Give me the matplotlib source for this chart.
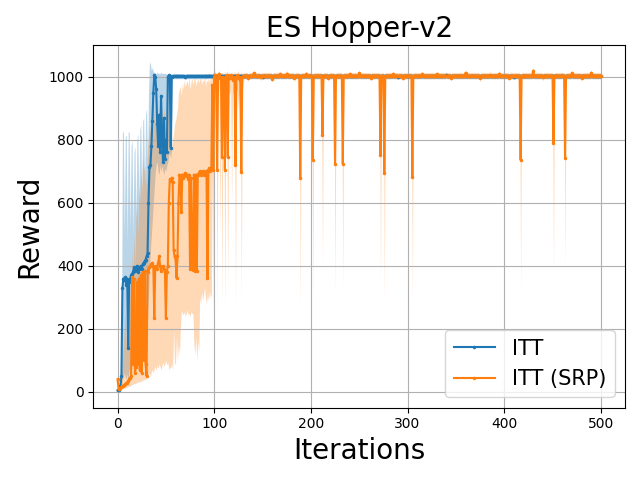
# ES Hopper-v2 reward curves, ITT vs ITT (SRP)

import numpy as np
import matplotlib
matplotlib.use('Agg')
import matplotlib.pyplot as plt

n_iters = 501
iters = np.arange(n_iters)

# ITT (blue), iterations 0-56, after that it sits on the plateau
itt_early = [5, 5, 10, 20, 50, 330, 360, 355, 365, 340,
             360, 140, 350, 360, 370, 375, 380, 395, 385, 390,
             400, 380, 390, 395, 400, 390, 405, 410, 415, 420,
             430, 440, 600, 715, 720, 780, 860, 950, 1005, 1000,
             960, 850, 780, 880, 760, 940, 800, 730, 870, 740,
             800, 760, 1000, 1005, 1003, 775, 1000]
itt_hi_early = [10, 10, 20, 40, 100, 820, 830, 500, 810, 815,
                480, 825, 825, 520, 780, 800, 500, 760, 780, 550,
                800, 820, 600, 830, 850, 620, 860, 870, 650, 880,
                900, 700, 950, 1048, 1040, 1020, 1030, 1015, 1015, 1012,
                1010, 1015, 1010, 1012, 1010, 1015, 1010, 1012, 1010, 1012,
                1010, 1008, 1010, 1012, 1010, 1008, 1010]
itt_lo_early = [0, 0, 0, 5, 10, 40, 50, 60, 50, 40,
                60, 30, 70, 80, 60, 90, 80, 100, 90, 110,
                100, 120, 110, 130, 140, 150, 130, 170, 180, 200,
                220, 240, 300, 400, 450, 500, 550, 600, 650, 700,
                720, 730, 700, 690, 720, 700, 720, 700, 690, 710,
                700, 720, 730, 750, 760, 740, 780]
itt_plateau = 1002
itt_band = 8
itt_bumps = {70: 998, 95: 1004, 150: 999, 200: 1004, 290: 998, 340: 1005,
             410: 999, 460: 1004}

# ITT (SRP) (orange), iterations 0-130
srp_early = [40, 10, 8, 12, 15, 18, 20, 22, 25, 28,
             30, 35, 40, 45, 50, 365, 90, 360, 60, 80,
             350, 90, 360, 70, 370, 60, 380, 100, 385, 90,
             50, 380, 390, 395, 400, 405, 410, 400, 235, 395,
             400, 390, 410, 430, 400, 385, 395, 400, 390, 380,
             235, 380, 400, 600, 675, 670, 680, 665, 450, 430,
             420, 362, 430, 600, 690, 685, 570, 690, 680, 690,
             695, 685, 690, 675, 690, 390, 680, 395, 387, 690,
             385, 690, 385, 690, 695, 700, 690, 695, 700, 690,
             695, 700, 690, 362, 705, 710, 700, 710, 975, 705,
             1000, 1005, 990, 705, 1000, 1010, 995, 1000, 745, 1000,
             990, 705, 1000, 1005, 745, 1000, 995, 1005, 1000, 990,
             1000, 995, 720, 1000, 1005, 995, 1000, 990, 697, 1000, 1003]
srp_hi_early = [60, 40, 40, 50, 60, 100, 150, 200, 250, 150,
                300, 200, 250, 330, 300, 450, 350, 500, 400, 550,
                600, 500, 650, 600, 700, 650, 750, 700, 720, 680,
                650, 780, 800, 850, 820, 870, 800, 850, 900, 860,
                830, 880, 850, 900, 870, 920, 880, 850, 900, 870,
                880, 860, 900, 830, 800, 790, 780, 800, 820, 850,
                860, 880, 900, 950, 960, 970, 940, 980, 960, 990,
                970, 980, 990, 970, 1000, 960, 985, 995, 975, 990,
                1000, 970, 985, 995, 980, 990, 1000, 975, 990, 985,
                1000, 970, 990, 985, 995, 980, 1000, 990, 1010, 1015,
                1015, 1020, 1010, 1012, 1015, 1020, 1010, 1012, 1015, 1010,
                1012, 1015, 1010, 1020, 1012, 1015, 1010, 1012, 1015, 1010,
                1012, 1015, 1010, 1012, 1015, 1020, 1010, 1012, 1015, 1010, 1012]
srp_lo_early = [20, 5, 3, 5, 8, 10, 10, 12, 12, 15,
                15, 18, 18, 20, 20, 25, 22, 28, 25, 30,
                28, 32, 30, 35, 30, 38, 35, 40, 38, 42,
                40, 50, 55, 60, 50, 65, 70, 60, 75, 80,
                70, 85, 75, 90, 80, 70, 85, 95, 80, 90,
                100, 85, 95, 70, 80, 75, 90, 70, 200, 85,
                95, 180, 100, 150, 120, 200, 260, 250, 245, 255,
                240, 250, 260, 245, 250, 240, 255, 250, 245, 150,
                120, 175, 100, 160, 130, 300, 280, 320, 290, 310,
                333, 300, 280, 310, 290, 320, 300, 310, 700, 250,
                960, 950, 900, 250, 955, 960, 500, 950, 300, 960,
                940, 260, 955, 960, 320, 950, 945, 960, 600, 940,
                955, 950, 280, 960, 955, 900, 950, 940, 300, 960, 980]
srp_plateau = 1004
srp_band = 10
# later drops: iteration -> (mean, lower edge)
srp_dips = {189: (679, 260), 202: (736, 300), 212: (816, 400), 225: (724, 310),
            233: (724, 330), 272: (752, 350), 276: (695, 290), 305: (683, 280),
            417: (736, 330), 451: (791, 380), 463: (742, 400)}
srp_bumps = {135: 996, 141: 1012, 148: 998, 160: 994, 168: 1008, 175: 1010,
             183: 995, 195: 1009, 218: 996, 240: 1008, 250: 1012, 262: 996,
             285: 1009, 295: 997, 315: 1008, 330: 1008, 345: 996, 360: 1013,
             375: 995, 385: 1006, 395: 1010, 405: 997, 430: 1020, 440: 998,
             470: 1012, 480: 997, 490: 1013}

# build full series
itt = np.full(n_iters, float(itt_plateau))
for k, v in itt_bumps.items():
    itt[k] = v
itt[:len(itt_early)] = itt_early
itt_hi = itt + itt_band
itt_lo = itt - itt_band
itt_hi[:len(itt_hi_early)] = itt_hi_early
itt_lo[:len(itt_lo_early)] = itt_lo_early

srp = np.full(n_iters, float(srp_plateau))
for k, v in srp_bumps.items():
    srp[k] = v
for k, (m, lo) in srp_dips.items():
    srp[k] = m
srp[:len(srp_early)] = srp_early
srp_hi = srp + srp_band
srp_lo = srp - srp_band
for k, (m, lo) in srp_dips.items():
    srp_lo[k] = lo
    srp_hi[k] = m + 40
srp_hi[:len(srp_hi_early)] = srp_hi_early
srp_lo[:len(srp_lo_early)] = srp_lo_early

# Plot
fig, ax = plt.subplots(figsize=(6.4, 4.8), dpi=100)
ax.plot(iters, itt, marker='.', markersize=3, color='tab:blue', label='ITT')
ax.fill_between(iters, itt_lo, itt_hi, color='tab:blue', alpha=0.3, linewidth=0)
ax.plot(iters, srp, marker='.', markersize=3, color='tab:orange', label='ITT (SRP)')
ax.fill_between(iters, srp_lo, srp_hi, color='tab:orange', alpha=0.3, linewidth=0)
ax.set_ylim(-50, 1100)
ax.set_title('ES Hopper-v2', fontsize=20)
ax.set_xlabel('Iterations', fontsize=20)
ax.set_ylabel('Reward', fontsize=20)
ax.grid(True)
ax.legend(loc='lower right', fontsize=15)
fig.tight_layout()
fig.savefig('out.png')
